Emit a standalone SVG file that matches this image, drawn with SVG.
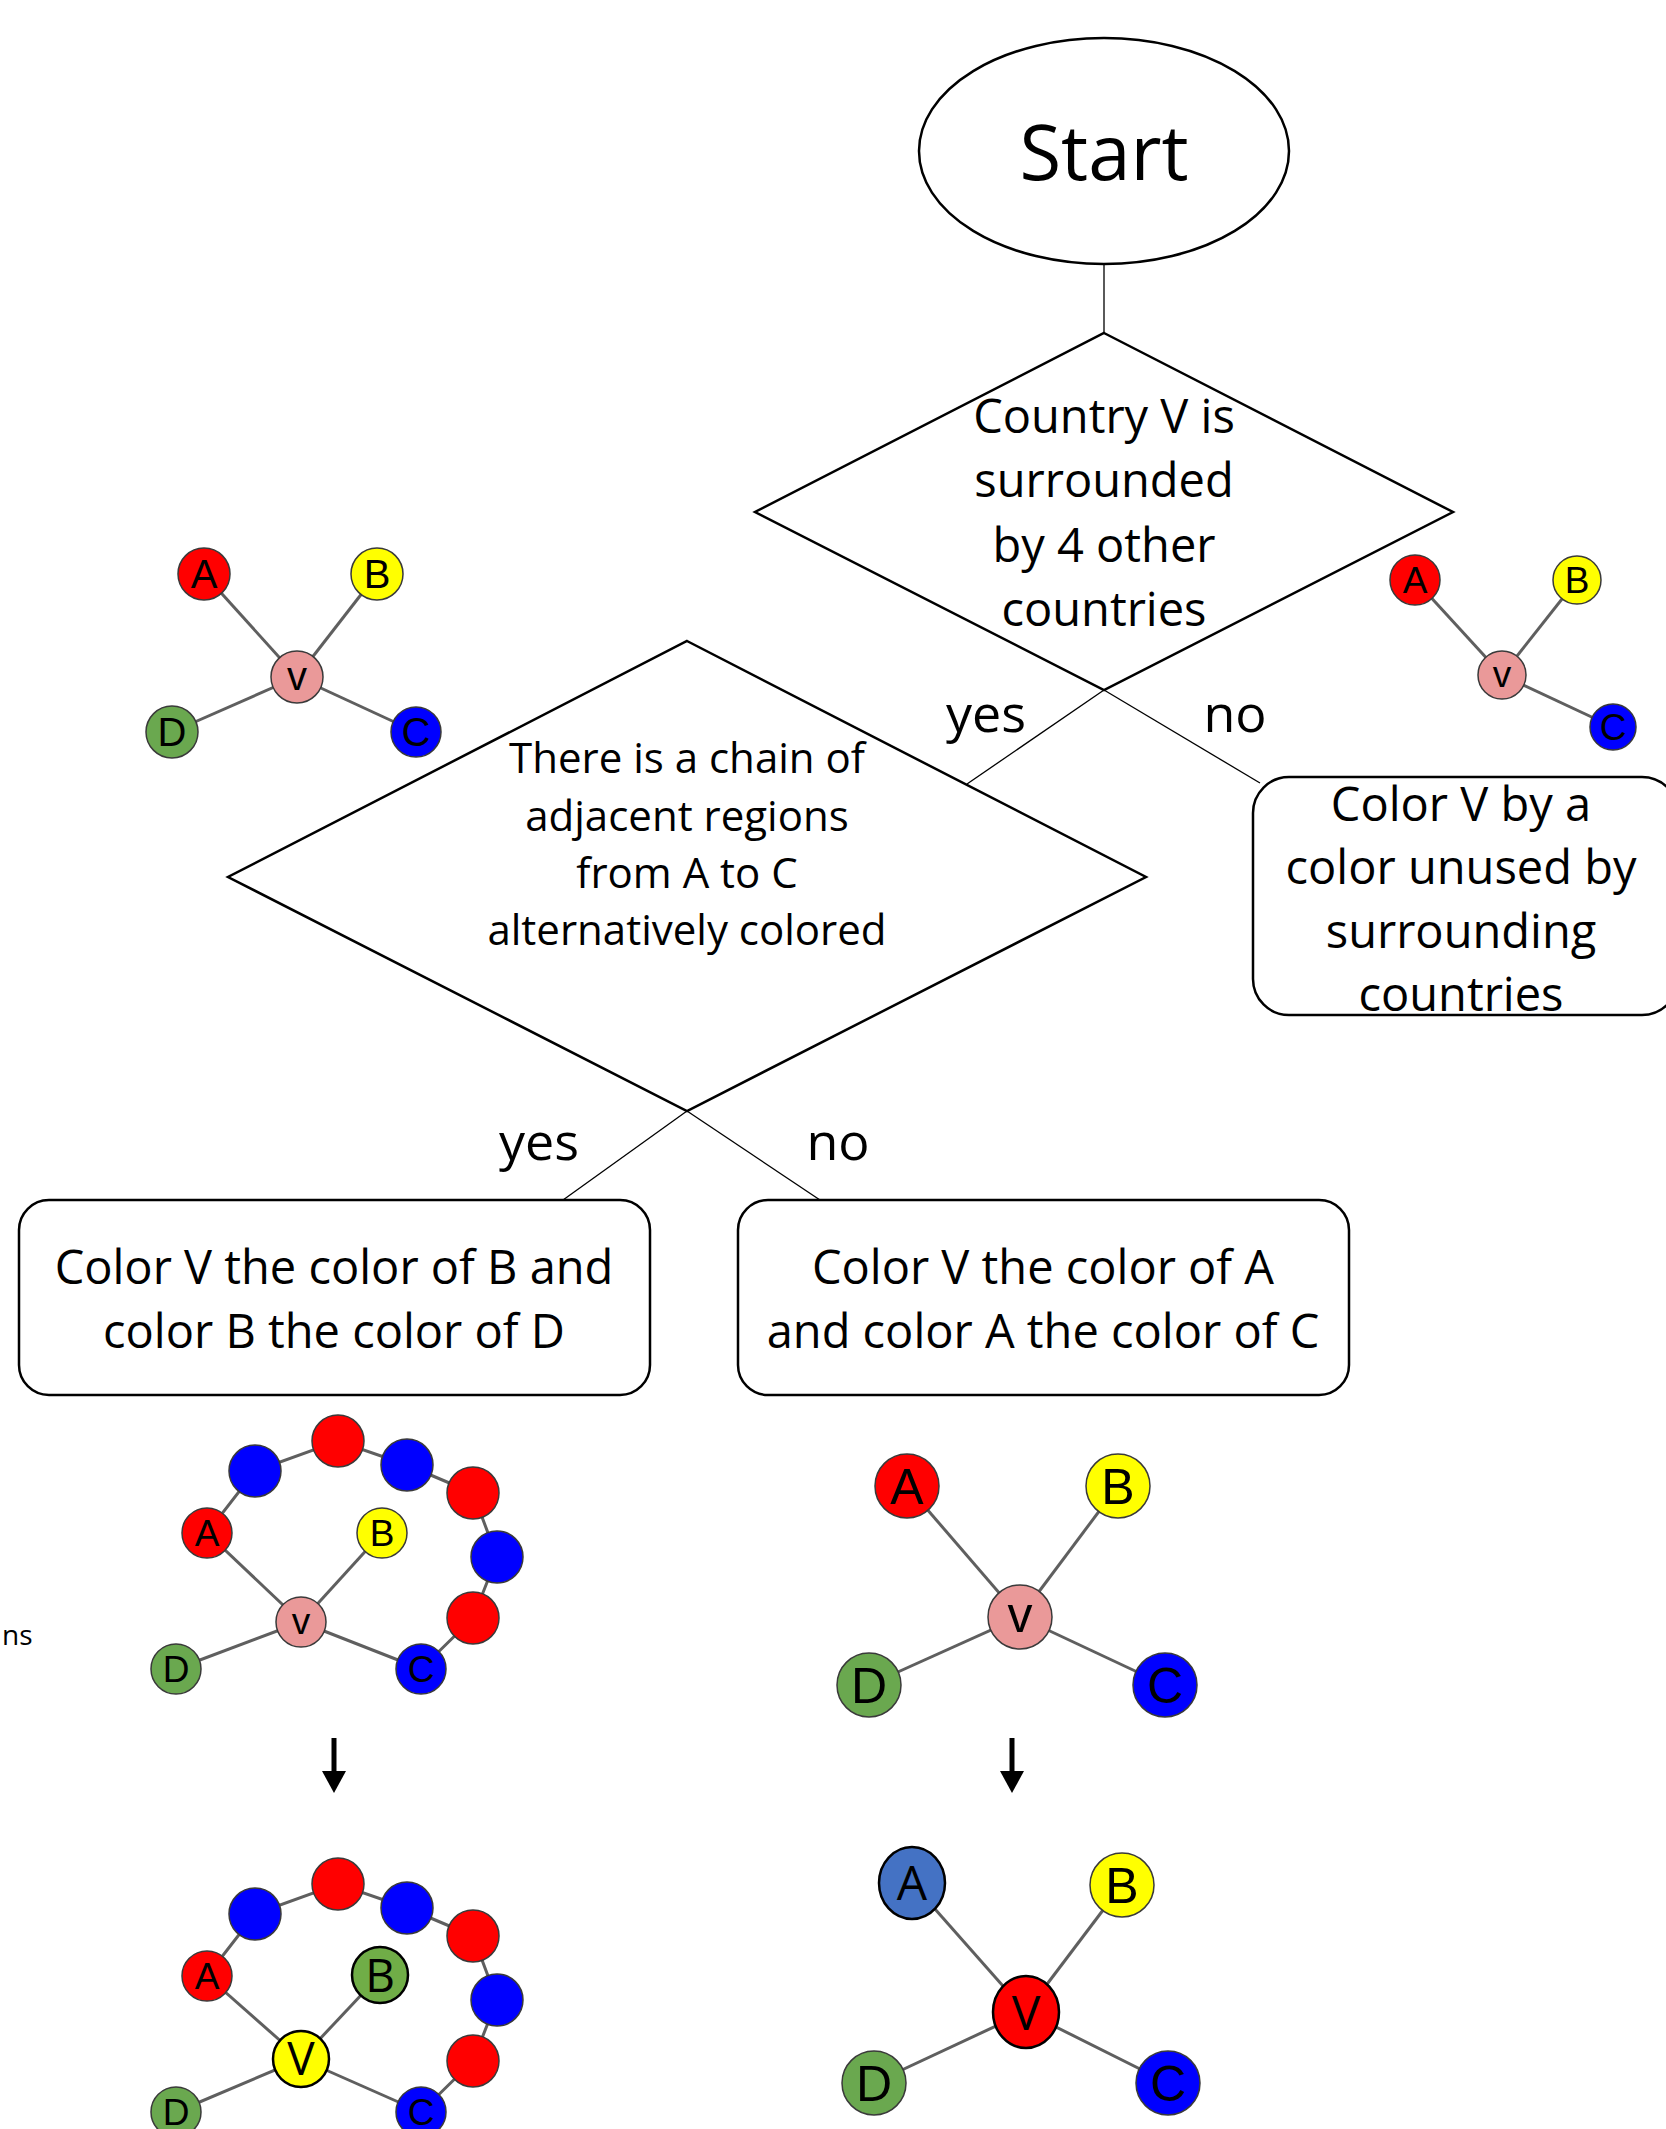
<svg xmlns="http://www.w3.org/2000/svg" width="1666" height="2129" viewBox="0 0 1666 2129">
<style>
.shape{fill:#fff;stroke:#000;stroke-width:2.5}
.conn{stroke:#000;stroke-width:1.3;fill:none}
.t{font-family:"Open Sans","Noto Sans",sans-serif;fill:#000;text-anchor:middle}
.edge{stroke:#5f5f5f;stroke-width:3}
.n{stroke:#3a3a3a;stroke-width:1.5}
.nb{stroke:#000;stroke-width:2.5}
.lbl{font-family:"Liberation Sans",Arial,sans-serif;fill:#000;text-anchor:middle}
.r{fill:#ff0000}.b{fill:#0000ff}.y{fill:#ffff00}.g{fill:#6aa84f}.p{fill:#ea9999}
</style>
<defs>
<marker id="ah" markerUnits="userSpaceOnUse" markerWidth="22" markerHeight="24" viewBox="0 0 22 24" refX="0" refY="12" orient="auto">
<path d="M0,0 L22,12 L0,24 z" fill="#000"/>
</marker>
</defs>
<rect width="1666" height="2129" fill="#fff"/>

<g id="connectors">
<line class="conn" x1="1104" y1="265" x2="1104" y2="333"/>
<line class="conn" x1="1104" y1="690" x2="967" y2="784"/>
<line class="conn" x1="1104" y1="690" x2="1260" y2="783"/>
<line class="conn" x1="687" y1="1111" x2="563" y2="1200"/>
<line class="conn" x1="687" y1="1111" x2="820" y2="1200"/>
<line x1="334" y1="1738" x2="334" y2="1771" stroke="#000" stroke-width="5" marker-end="url(#ah)"/>
<line x1="1012" y1="1738" x2="1012" y2="1771" stroke="#000" stroke-width="5" marker-end="url(#ah)"/>
<text class="t" x="986" y="732" font-size="52">yes</text>
<text class="t" x="1235" y="732" font-size="52">no</text>
<text class="t" x="539" y="1160" font-size="52">yes</text>
<text class="t" x="838" y="1160" font-size="52">no</text>
</g>

<g id="start">
<ellipse class="shape" cx="1104" cy="151" rx="185" ry="113"/>
<text class="t" x="1104" y="180" font-size="76">Start</text>
</g>

<g id="decision-surrounded">
<polygon class="shape" points="1104,333 1453,512 1104,690 755,512"/>
<text class="t" font-size="47"><tspan x="1104" y="433">Country V is</tspan><tspan x="1104" y="497">surrounded</tspan><tspan x="1104" y="562">by 4 other</tspan><tspan x="1104" y="626">countries</tspan></text>
</g>

<g id="decision-chain">
<polygon class="shape" points="687,641 1146,877 687,1111 228,877"/>
<text class="t" font-size="42"><tspan x="687" y="773">There is a chain of</tspan><tspan x="687" y="831">adjacent regions</tspan><tspan x="687" y="888">from A to C</tspan><tspan x="687" y="945">alternatively colored</tspan></text>
</g>

<g id="action-unused">
<rect class="shape" x="1253" y="777" width="425" height="238" rx="36"/>
<text class="t" font-size="47"><tspan x="1461" y="821">Color V by a</tspan><tspan x="1461" y="884">color unused by</tspan><tspan x="1461" y="948">surrounding</tspan><tspan x="1461" y="1011">countries</tspan></text>
</g>

<g id="action-b">
<rect class="shape" x="19" y="1200" width="631" height="195" rx="30"/>
<text class="t" font-size="47"><tspan x="334" y="1284">Color V the color of B and</tspan><tspan x="334" y="1348">color B the color of D</tspan></text>
</g>

<g id="action-a">
<rect class="shape" x="738" y="1200" width="611" height="195" rx="30"/>
<text class="t" font-size="47"><tspan x="1043" y="1284">Color V the color of A</tspan><tspan x="1043" y="1348">and color A the color of C</tspan></text>
</g>

<text class="t" x="2" y="1645" font-size="28" style="text-anchor:start">ns</text>

<g id="graph-top-left">
<line class="edge" x1="204" y1="574" x2="297" y2="677"/>
<line class="edge" x1="377" y1="574" x2="297" y2="677"/>
<line class="edge" x1="172" y1="732" x2="297" y2="677"/>
<line class="edge" x1="416" y1="732" x2="297" y2="677"/>
<circle class="n r" cx="204" cy="574" r="26"/>
<circle class="n y" cx="377" cy="574" r="26"/>
<circle class="n p" cx="297" cy="677" r="26"/>
<circle class="n g" cx="172" cy="732" r="26"/>
<circle class="n b" cx="416" cy="732" r="25"/>
<text class="lbl" font-size="40"><tspan x="204" y="588">A</tspan><tspan x="377" y="588">B</tspan><tspan x="297" y="690">v</tspan><tspan x="172" y="746">D</tspan><tspan x="416" y="746">C</tspan></text>
</g>

<g id="graph-top-right">
<line class="edge" x1="1415" y1="580" x2="1502" y2="675"/>
<line class="edge" x1="1577" y1="580" x2="1502" y2="675"/>
<line class="edge" x1="1613" y1="727" x2="1502" y2="675"/>
<circle class="n r" cx="1415" cy="580" r="25"/>
<circle class="n y" cx="1577" cy="580" r="24"/>
<circle class="n p" cx="1502" cy="675" r="24"/>
<circle class="n b" cx="1613" cy="727" r="23"/>
<text class="lbl" font-size="37"><tspan x="1415" y="593">A</tspan><tspan x="1577" y="593">B</tspan><tspan x="1502" y="687">v</tspan><tspan x="1613" y="740">C</tspan></text>
</g>

<g id="graph-chain-before">
<polyline class="edge" fill="none" points="207,1533 255,1471 338,1441 407,1465 473,1493 497,1557 473,1618 421,1669"/>
<line class="edge" x1="207" y1="1533" x2="301" y2="1622"/>
<line class="edge" x1="382" y1="1533" x2="301" y2="1622"/>
<line class="edge" x1="176" y1="1669" x2="301" y2="1622"/>
<line class="edge" x1="421" y1="1669" x2="301" y2="1622"/>
<circle class="n b" cx="255" cy="1471" r="26"/>
<circle class="n r" cx="338" cy="1441" r="26"/>
<circle class="n b" cx="407" cy="1465" r="26"/>
<circle class="n r" cx="473" cy="1493" r="26"/>
<circle class="n b" cx="497" cy="1557" r="26"/>
<circle class="n r" cx="473" cy="1618" r="26"/>
<circle class="n r" cx="207" cy="1533" r="25"/>
<circle class="n y" cx="382" cy="1533" r="25"/>
<circle class="n p" cx="301" cy="1622" r="25"/>
<circle class="n g" cx="176" cy="1669" r="25"/>
<circle class="n b" cx="421" cy="1669" r="25"/>
<text class="lbl" font-size="37"><tspan x="207" y="1546">A</tspan><tspan x="382" y="1546">B</tspan><tspan x="301" y="1634">v</tspan><tspan x="176" y="1682">D</tspan><tspan x="421" y="1682">C</tspan></text>
</g>

<g id="graph-chain-after">
<polyline class="edge" fill="none" points="207,1976 255,1914 338,1884 407,1908 473,1936 497,2000 473,2061 421,2112"/>
<line class="edge" x1="207" y1="1976" x2="301" y2="2059"/>
<line class="edge" x1="380" y1="1975" x2="301" y2="2059"/>
<line class="edge" x1="176" y1="2112" x2="301" y2="2059"/>
<line class="edge" x1="421" y1="2112" x2="301" y2="2059"/>
<circle class="n b" cx="255" cy="1914" r="26"/>
<circle class="n r" cx="338" cy="1884" r="26"/>
<circle class="n b" cx="407" cy="1908" r="26"/>
<circle class="n r" cx="473" cy="1936" r="26"/>
<circle class="n b" cx="497" cy="2000" r="26"/>
<circle class="n r" cx="473" cy="2061" r="26"/>
<circle class="n r" cx="207" cy="1976" r="25"/>
<circle class="n g" cx="176" cy="2112" r="25"/>
<circle class="n b" cx="421" cy="2112" r="25"/>
<circle class="nb" cx="380" cy="1975" r="28" fill="#70ad47"/>
<circle class="nb" cx="301" cy="2059" r="28" fill="#ffff00"/>
<text class="lbl" font-size="37"><tspan x="207" y="1989">A</tspan><tspan x="176" y="2125">D</tspan><tspan x="421" y="2125">C</tspan></text>
<text class="t" font-size="46"><tspan x="380" y="1992">B</tspan><tspan x="301" y="2075">V</tspan></text>
</g>

<g id="graph-simple-before">
<line class="edge" x1="907" y1="1486" x2="1020" y2="1617"/>
<line class="edge" x1="1118" y1="1486" x2="1020" y2="1617"/>
<line class="edge" x1="869" y1="1685" x2="1020" y2="1617"/>
<line class="edge" x1="1165" y1="1685" x2="1020" y2="1617"/>
<circle class="n r" cx="907" cy="1486" r="32"/>
<circle class="n y" cx="1118" cy="1486" r="32"/>
<circle class="n p" cx="1020" cy="1617" r="32"/>
<circle class="n g" cx="869" cy="1685" r="32"/>
<circle class="n b" cx="1165" cy="1685" r="32"/>
<text class="lbl" font-size="50"><tspan x="907" y="1504">A</tspan><tspan x="1118" y="1504">B</tspan><tspan x="1020" y="1632">v</tspan><tspan x="869" y="1703">D</tspan><tspan x="1165" y="1703">C</tspan></text>
</g>

<g id="graph-simple-after">
<line class="edge" x1="912" y1="1883" x2="1026" y2="2012"/>
<line class="edge" x1="1122" y1="1885" x2="1026" y2="2012"/>
<line class="edge" x1="874" y1="2083" x2="1026" y2="2012"/>
<line class="edge" x1="1168" y1="2083" x2="1026" y2="2012"/>
<circle class="n y" cx="1122" cy="1885" r="32"/>
<circle class="n g" cx="874" cy="2083" r="32"/>
<circle class="n b" cx="1168" cy="2083" r="32"/>
<ellipse class="nb" cx="912" cy="1883" rx="33" ry="36" fill="#4472c4"/>
<ellipse class="nb" cx="1026" cy="2012" rx="33" ry="36" fill="#ff0000"/>
<text class="lbl" font-size="50"><tspan x="1122" y="1903">B</tspan><tspan x="874" y="2101">D</tspan><tspan x="1168" y="2101">C</tspan></text>
<text class="t" font-size="48"><tspan x="912" y="1900">A</tspan><tspan x="1026" y="2030">V</tspan></text>
</g>
</svg>
